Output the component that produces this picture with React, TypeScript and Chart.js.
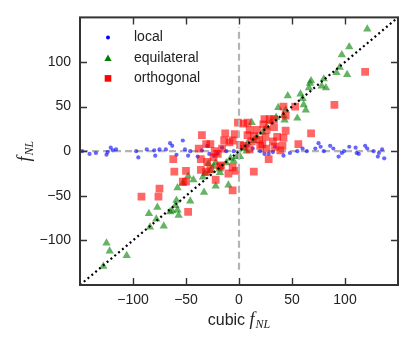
import { useEffect, useRef } from 'react';
import { Chart, registerables } from 'chart.js';
Chart.register(...registerables);

const seriesNames = ['local', 'equilateral', 'orthogonal'];

const localPoints: number[][] = [
  [-148, 0], [-141, -3], [-135, -2], [-125, -4], [-124, -1], [-121, 4], [-119, 1], [-116, 2],
  [-97, 0], [-95, -7], [-87, 2], [-80, 1], [-79, -5], [-75, 2], [-69, 2], [-65, 9], [-63, 6],
  [-59, -4], [-53, 12], [-51, 2], [-48, -5], [-46, 0], [-39, -6], [-35, 1], [-30, 6], [-28, -3],
  [-24, -5], [-20, -3], [-16, 4], [-12, 0], [-5, 0], [1, 5], [8, 6], [13, 3], [20, 0], [24, -3],
  [28, -3], [32, -1], [34, 5], [42, -5], [48, -2], [55, 0], [60, 3], [64, 0], [72, 3], [75, 9],
  [77, 5], [80, 0], [86, 6], [89, 3], [94, -6], [97, -2], [99, 0], [104, 5], [110, 4], [111, -2],
  [113, -3], [119, 6], [121, 3], [127, 0], [131, -6], [132, -2], [135, 2], [137, -8],
];

const equilateralPoints: number[][] = [
  [121, 137], [104, 117], [97, 108], [95, 94], [92, 88], [102, 86], [80, 81], [78, 73], [82, 71],
  [68, 79], [67, 76], [66, 71], [58, 64], [60, 59], [46, 62], [37, 49], [44, 46], [61, 52], [63, 46],
  [55, 37], [43, 35], [42, 40], [26, 27], [12, 32], [22, 21], [17, 16], [8, 9], [7, 0], [1, -6],
  [-5, -11], [-2, -6], [-12, -13], [-18, -20], [-18, -24], [-24, -17], [-22, -13], [-27, -22],
  [-29, -14], [-32, -25], [-34, -29], [-33, -46], [-43, -32], [-46, -56], [-48, -28], [-53, -36],
  [-58, -41], [-59, -55], [-60, -61], [-58, -66], [-57, -72], [-63, -67], [-65, -68], [-71, -84],
  [-77, -63], [-78, -76], [-85, -70], [-84, -85], [-106, -117], [-122, -112], [-125, -103],
  [-128, -129], [-10, -38], [-22, -39], [30, 33], [35, 38], [5, 3], [-8, -8], [14, 12],
];

const orthogonalPoints: number[][] = [
  [119, 89], [90, 52], [68, 20], [56, 8], [53, 50], [42, 50], [44, 40], [44, 23], [42, 15], [41, 6],
  [34, 5], [32, 11], [29, 36], [33, 36], [24, 36], [26, 24], [25, 16], [22, 8], [26, 3], [28, -9],
  [14, -23], [17, 24], [10, 24], [8, 32], [4, 31], [-1, 32], [8, 18], [12, 11], [14, 17], [4, 6],
  [1, 7], [-4, 19], [-6, 12], [-13, 20], [-14, 12], [-16, 3], [-23, 0], [-24, -7], [-27, 8],
  [-31, 8], [-35, 18], [-38, 3], [-36, -9], [-36, -21], [-31, -23], [-27, -20], [-18, -17],
  [-17, -16], [-22, -32], [-6, -18], [-10, -25], [-3, -22], [-6, -44], [-50, -22], [-53, -34],
  [-50, -34], [-62, -9], [-61, -23], [-48, -68], [-75, -42], [-76, -51], [-92, -51], [33, 27],
  [36, 16], [19, 13], [20, 6], [23, 30], [39, 1], [-9, 10], [-20, -3], [10, 2], [-30, -12],
];

const diagonalLine: number[][] = [[-150, -150], [150, 150]];
const verticalLine: number[][] = [[0, -133], [0, 139]];
const horizontalLine: number[][] = [[-149, 0], [140, 0]];

const tickValues = [-100, -50, 0, 50, 100];

const fmt = (v: number) => (v < 0 ? '\u2212' + Math.abs(v) : String(v));
const toXY = (arr: number[][]) => arr.map(([x, y]) => ({ x, y }));

function drawFNL(ctx: CanvasRenderingContext2D, x: number, y: number, align: 'center' | 'left') {
  ctx.font = 'italic 18px "Liberation Serif"';
  const fw = ctx.measureText('f').width;
  ctx.font = 'italic 12px "Liberation Serif"';
  const nw = ctx.measureText('NL').width;
  const total = fw + 1 + nw;
  const start = align === 'center' ? x - total / 2 : x;
  ctx.textAlign = 'left';
  ctx.textBaseline = 'alphabetic';
  ctx.font = 'italic 18px "Liberation Serif"';
  ctx.fillText('f', start, y);
  ctx.font = 'italic 12px "Liberation Serif"';
  ctx.fillText('NL', start + fw + 1, y + 3);
  return total;
}

const decor = {
  id: 'decor',
  afterDatasetsDraw(chart: any) {
    const { ctx, chartArea: a, scales } = chart;
    const xs = scales.x;
    const ys = scales.y;
    ctx.save();
    ctx.strokeStyle = '#333';
    ctx.lineWidth = 2;
    ctx.strokeRect(a.left, a.top, a.right - a.left, a.bottom - a.top);
    ctx.lineWidth = 1.4;
    ctx.beginPath();
    for (const v of tickValues) {
      const px = Math.round(xs.getPixelForValue(v)) + 0.5;
      ctx.moveTo(px, a.bottom); ctx.lineTo(px, a.bottom - 7);
      ctx.moveTo(px, a.top); ctx.lineTo(px, a.top + 7);
      const py = Math.round(ys.getPixelForValue(v)) + 0.5;
      ctx.moveTo(a.left, py); ctx.lineTo(a.left + 7, py);
      ctx.moveTo(a.right, py); ctx.lineTo(a.right - 7, py);
    }
    ctx.stroke();

    // legend
    const lx = a.left + 28;
    const tx = a.left + 54;
    const rows = [a.top + 20, a.top + 41, a.top + 61];
    ctx.fillStyle = '#0000ff';
    ctx.beginPath(); ctx.arc(lx, rows[0], 2, 0, Math.PI * 2); ctx.fill();
    ctx.fillStyle = '#008000';
    ctx.beginPath();
    ctx.moveTo(lx, rows[1] - 4); ctx.lineTo(lx + 3.6, rows[1] + 2.5); ctx.lineTo(lx - 3.6, rows[1] + 2.5);
    ctx.closePath(); ctx.fill();
    ctx.fillStyle = '#ff0000';
    ctx.fillRect(lx - 3.3, rows[2] - 3.3, 6.6, 6.6);
    ctx.fillStyle = '#222';
    ctx.font = '14px "Liberation Sans"';
    ctx.textAlign = 'left';
    ctx.textBaseline = 'middle';
    seriesNames.forEach((n, i) => ctx.fillText(n, tx, rows[i]));

    // x title
    ctx.font = '16px "Liberation Sans"';
    const cw = ctx.measureText('cubic ').width;
    ctx.font = 'italic 18px "Liberation Serif"';
    const fw = ctx.measureText('f').width;
    ctx.font = 'italic 12px "Liberation Serif"';
    const nw = ctx.measureText('NL').width;
    const total = cw + fw + 1 + nw;
    const cx = (a.left + a.right) / 2;
    const sx = cx - total / 2;
    ctx.fillStyle = '#222';
    ctx.font = '16px "Liberation Sans"';
    ctx.textAlign = 'left';
    ctx.textBaseline = 'alphabetic';
    ctx.fillText('cubic ', sx, 325);
    drawFNL(ctx, sx + cw, 325, 'left');

    // y title
    ctx.save();
    ctx.translate(30, (a.top + a.bottom) / 2);
    ctx.rotate(-Math.PI / 2);
    drawFNL(ctx, 0, 0, 'center');
    ctx.restore();
    ctx.restore();
  },
};

export default function App() {
  const ref = useRef<HTMLCanvasElement>(null);
  useEffect(() => {
    if (!ref.current) return;
    const tickFont = { family: '"Liberation Sans"', size: 14 };
    const chart = new Chart(ref.current, {
      type: 'scatter',
      data: {
        datasets: [
          {
            label: 'diag', data: toXY(diagonalLine), showLine: true, pointRadius: 0,
            borderColor: '#000', borderWidth: 2.2, borderDash: [2, 3], order: 0,
          } as any,
          {
            label: 'vert', data: toXY(verticalLine), showLine: true, pointRadius: 0,
            borderColor: '#b4b4b4', borderWidth: 2.2, borderDash: [7, 4], order: 1,
          },
          {
            label: 'horiz', data: toXY(horizontalLine), showLine: true, pointRadius: 0,
            borderColor: '#b4b4b4', borderWidth: 2.2, borderDash: [7, 4], order: 5,
          },
          {
            label: seriesNames[2], data: toXY(orthogonalPoints), pointStyle: 'rect', pointRadius: 5.5,
            backgroundColor: 'rgba(255,0,0,0.6)', borderWidth: 0, order: 2,
          },
          {
            label: seriesNames[1], data: toXY(equilateralPoints), pointStyle: 'triangle', pointRadius: 4.8,
            backgroundColor: 'rgba(0,128,0,0.6)', borderWidth: 0, order: 3,
          },
          {
            label: seriesNames[0], data: toXY(localPoints), pointStyle: 'circle', pointRadius: 2.1,
            backgroundColor: 'rgba(0,0,255,0.6)', borderWidth: 0, order: 4,
          },
        ],
      },
      options: {
        animation: false,
        responsive: false,
        maintainAspectRatio: false,
        layout: { padding: { top: 16, right: 17, left: 0, bottom: 0 } },
        plugins: { legend: { display: false }, tooltip: { enabled: false } },
        scales: {
          x: {
            type: 'linear', min: -150, max: 150,
            afterBuildTicks: (s: any) => { s.ticks = tickValues.map((v) => ({ value: v })); },
            afterFit: (s: any) => { s.height = 62; },
            grid: { display: false, drawTicks: false },
            border: { display: false },
            ticks: { padding: 7, font: tickFont, color: '#222', maxRotation: 0, autoSkip: false, callback: (v: any) => fmt(Number(v)) },
          },
          y: {
            type: 'linear', min: -150, max: 150,
            afterBuildTicks: (s: any) => { s.ticks = tickValues.map((v) => ({ value: v })); },
            afterFit: (s: any) => { s.width = 80; },
            grid: { display: false, drawTicks: false },
            border: { display: false },
            ticks: { padding: 9, font: tickFont, color: '#222', autoSkip: false, callback: (v: any) => fmt(Number(v)) },
          },
        },
      },
      plugins: [decor],
    });
    return () => chart.destroy();
  }, []);
  return (
    <div style={{ position: 'fixed', left: 0, top: 0, width: 415, height: 347, background: '#fff' }}>
      <canvas ref={ref} width={415} height={347} style={{ display: 'block' }} />
    </div>
  );
}
